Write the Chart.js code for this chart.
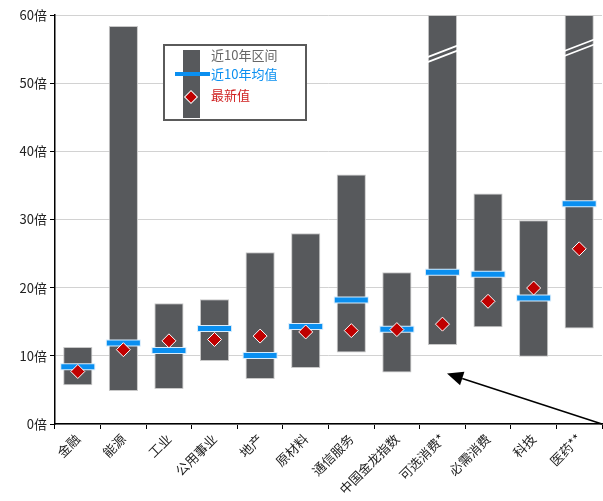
<!DOCTYPE html>
<html>
<head>
<meta charset="utf-8">
<script src="https://cdn.jsdelivr.net/npm/chart.js@4"></script>
<style>
  html, body { margin: 0; padding: 0; background: #fff; }
  #wrap { width: 603px; height: 501px; }
</style>
</head>
<body>
<div id="wrap"><canvas id="chart"></canvas></div>
<script>
// Sectors and valuation multiples (倍)
const categories = ['金融', '能源', '工业', '公用事业', '地产', '原材料', '通信服务', '中国金龙指数', '可选消费*', '必需消费', '科技', '医药**'];
const rangeLow = [5.7, 4.85, 5.15, 9.25, 6.6, 8.2, 10.5, 7.55, 11.6, 14.2, 9.85, 14.0];
const rangeHigh = [11.3, 58.4, 17.7, 18.3, 25.2, 28.0, 36.6, 22.25, 60, 33.8, 29.9, 60];
const avg10y = [8.4, 11.9, 10.8, 14.0, 10.05, 14.3, 18.2, 13.9, 22.25, 21.95, 18.5, 32.3];
const latest = [7.7, 10.9, 12.2, 12.4, 12.9, 13.5, 13.7, 13.85, 14.65, 18.0, 19.95, 25.7];

// bars cut off at the top of the axis, and where the break mark sits
const brokenBars = ['可选消费*', '医药**'];
const breakAt = [54.3, 55.2];

const FONT = '"Noto Sans CJK SC", "Noto Sans", sans-serif';
const GREY = '#57595c';
const BLUE = '#0a8ff0';
const RED = '#c00000';
const BAR_DS = 3;

// white double slash across the cut bars
const breakPlugin = {
    id: 'breaks',
    afterDatasetsDraw(chart) {
        const ctx = chart.ctx;
        const meta = chart.getDatasetMeta(BAR_DS);
        const y = chart.scales.y;
        brokenBars.forEach((name, i) => {
            const bar = meta.data[categories.indexOf(name)];
            const half = bar.width / 2 + 1;
            const cy = y.getPixelForValue(breakAt[i]);
            ctx.save();
            ctx.strokeStyle = '#fff';
            ctx.lineWidth = 1.8;
            [-2.5, 2.5].forEach(off => {
                ctx.beginPath();
                ctx.moveTo(bar.x - half, cy + off + 6);
                ctx.lineTo(bar.x + half, cy + off - 6);
                ctx.stroke();
            });
            ctx.restore();
        });
    }
};

// arrow from the lower right corner back toward 可选消费
const arrowPlugin = {
    id: 'arrow',
    afterDraw(chart) {
        const ctx = chart.ctx;
        const x = chart.scales.x, y = chart.scales.y;
        const x0 = chart.chartArea.right, y0 = y.getPixelForValue(0);
        const x1 = x.getPixelForValue(8.1), y1 = y.getPixelForValue(7.4);
        const ang = Math.atan2(y1 - y0, x1 - x0);
        const len = 16, w = 7;
        const bx = x1 - len * Math.cos(ang), by = y1 - len * Math.sin(ang);
        ctx.save();
        ctx.strokeStyle = '#000';
        ctx.lineWidth = 1.5;
        ctx.beginPath();
        ctx.moveTo(x0, y0);
        ctx.lineTo(bx, by);
        ctx.stroke();
        ctx.fillStyle = '#000';
        ctx.beginPath();
        ctx.moveTo(x1, y1);
        ctx.lineTo(bx + w * Math.sin(ang), by - w * Math.cos(ang));
        ctx.lineTo(bx - w * Math.sin(ang), by + w * Math.cos(ang));
        ctx.closePath();
        ctx.fill();
        ctx.restore();
    }
};

// boxed legend in the upper area
const legendPlugin = {
    id: 'boxLegend',
    afterDraw(chart) {
        const ctx = chart.ctx;
        ctx.save();
        ctx.fillStyle = '#fff';
        ctx.fillRect(164, 45, 142, 75);
        ctx.strokeStyle = '#5a5a5a';
        ctx.lineWidth = 2;
        ctx.strokeRect(164, 45, 142, 75);
        ctx.fillStyle = GREY;
        ctx.fillRect(183, 50, 17, 68);
        ctx.fillStyle = BLUE;
        ctx.fillRect(175, 72, 35, 4);
        ctx.translate(191, 97);
        ctx.rotate(Math.PI / 4);
        ctx.fillStyle = RED;
        ctx.strokeStyle = '#fff';
        ctx.lineWidth = 1;
        ctx.fillRect(-4.5, -4.5, 9, 9);
        ctx.strokeRect(-4.5, -4.5, 9, 9);
        ctx.restore();

        ctx.save();
        ctx.font = '13px ' + FONT;
        ctx.textBaseline = 'middle';
        ctx.textAlign = 'left';
        ctx.fillStyle = '#666';
        ctx.fillText('近10年区间', 211, 55);
        ctx.fillStyle = BLUE;
        ctx.fillText('近10年均值', 211, 74);
        ctx.fillStyle = '#d02020';
        ctx.fillText('最新值', 211, 95);
        ctx.restore();
    }
};

new Chart(document.getElementById('chart'), {
    type: 'bar',
    data: {
        labels: categories,
        datasets: [
            {
                type: 'line',
                label: '最新值',
                data: latest,
                showLine: false,
                pointStyle: 'rectRot',
                pointRadius: 7,
                pointBackgroundColor: RED,
                pointBorderColor: '#fff',
                pointBorderWidth: 1,
                order: 0
            },
            {
                type: 'line',
                label: '近10年均值',
                data: avg10y,
                showLine: false,
                pointStyle: 'line',
                pointRadius: 16.5,
                pointBorderColor: BLUE,
                pointBorderWidth: 5,
                order: 1
            },
            {
                type: 'line',
                label: 'outline',
                data: avg10y,
                showLine: false,
                pointStyle: 'line',
                pointRadius: 17.5,
                pointBorderColor: '#d8ecfb',
                pointBorderWidth: 7,
                order: 2
            },
            {
                label: '近10年区间',
                data: categories.map((c, i) => [rangeLow[i], rangeHigh[i]]),
                backgroundColor: GREY,
                borderColor: '#c8c8c8',
                borderWidth: 1,
                borderSkipped: false,
                barPercentage: 0.64,
                categoryPercentage: 1,
                order: 3
            }
        ]
    },
    options: {
        responsive: true,
        maintainAspectRatio: false,
        animation: false,
        layout: { autoPadding: false, padding: { top: 15, right: 1, left: 0, bottom: 0 } },
        plugins: {
            legend: { display: false },
            tooltip: { enabled: false }
        },
        scales: {
            x: {
                offset: true,
                grid: { offset: true, drawOnChartArea: false, tickColor: '#000', tickLength: 5 },
                border: { color: '#000', width: 1.5 },
                ticks: {
                    autoSkip: false,
                    maxRotation: 45,
                    minRotation: 45,
                    padding: 2,
                    color: '#222',
                    font: { family: FONT, size: 13 }
                },
                afterFit(scale) {
                    scale.height = 77;
                    scale.paddingLeft = 0;
                    scale.paddingRight = 0;
                }
            },
            y: {
                min: 0,
                max: 60,
                grid: { color: '#d2d2d2', tickColor: '#000', tickLength: 5 },
                border: { color: '#000', width: 1.5 },
                ticks: {
                    stepSize: 10,
                    padding: 3,
                    color: '#222',
                    font: { family: FONT, size: 13 },
                    callback: v => v + '倍'
                },
                afterFit(scale) {
                    scale.width = 55;
                }
            }
        }
    },
    plugins: [breakPlugin, arrowPlugin, legendPlugin]
});
</script>
</body>
</html>
